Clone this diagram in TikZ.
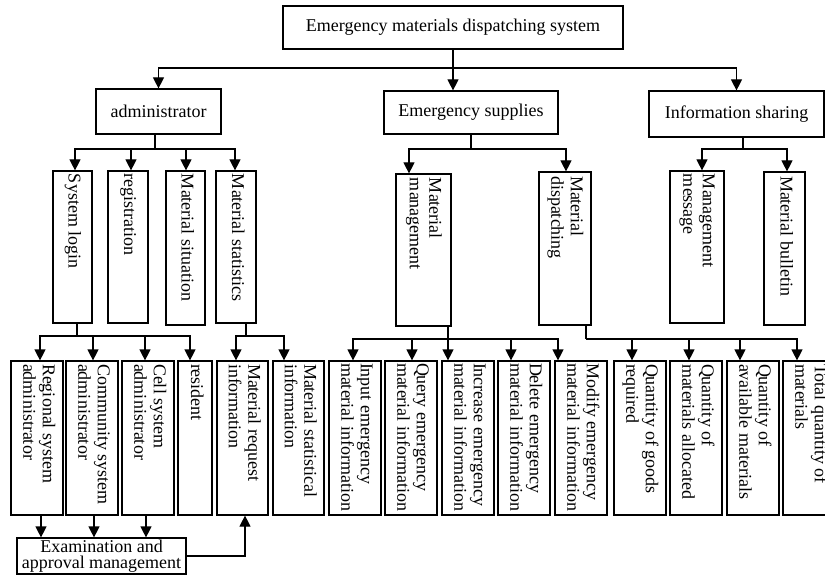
\documentclass[tikz,border=0pt]{standalone}
\usepackage{fontspec}
\setmainfont{Liberation Serif}
\usepackage{graphicx}
\usetikzlibrary{arrows.meta}
\newcommand\vtext[2]{\rotatebox{-90}{\makebox[#1][l]{\begin{tabular}{@{}l@{}}#2\end{tabular}}}}
\begin{document}
\begin{tikzpicture}[x=1pt,y=-1pt,
  every node/.style={font=\fontsize{18}{19.5}\selectfont, inner sep=0pt},
  box/.style={draw, line width=1.2pt},
  top/.style={box, minimum width=39, minimum height=152},
  leaf/.style={box, minimum width=52, minimum height=154},
  arr/.style={line width=1.2pt, -{Triangle[width=11pt,length=11pt]}},
  ln/.style={line width=1.2pt}]
\useasboundingbox (0,0) rectangle (825,575);

% level 0 and 1
\node[box, minimum width=340, minimum height=43] (title) at (453,27.5) {Emergency materials dispatching system};
\node[box, minimum width=125, minimum height=45] (admin) at (158.5,111.5) {administrator};
\node[box, minimum width=174, minimum height=43] (supp) at (471,112.5) {Emergency supplies};
\node[box, minimum width=175, minimum height=46] (info) at (736.5,114) {Information sharing};

% level 2
\node[top] (login) at (72.5,247) {\vtext{146pt}{System login}};
\node[top, minimum width=40] (reg) at (128,247) {\vtext{146pt}{registration}};
\node[top, minimum height=154] (situ) at (185.5,248) {\vtext{148pt}{Material situation}};
\node[top, minimum width=40] (stats) at (236,247) {\vtext{146pt}{Material statistics}};
\node[top, minimum width=55] (mm) at (423.5,250) {\vtext{144pt}{Material\\management}};
\node[top, minimum width=52, minimum height=153] (md) at (565,248.5) {\vtext{145pt}{Material\\dispatching}};
\node[top, minimum width=54] (mmsg) at (697,247) {\vtext{146pt}{Management\\message}};
\node[top, minimum width=41, minimum height=153] (bull) at (784.5,248.5) {\vtext{145pt}{Material bulletin}};

% level 3
\node[leaf] (reg3) at (37,438) {\vtext{148pt}{Regional system\\administrator}};
\node[leaf] (comm) at (92,438) {\vtext{148pt}{Community system\\administrator}};
\node[leaf] (cell) at (148,438) {\vtext{148pt}{Cell system\\administrator}};
\node[leaf, minimum width=34] (res) at (195,438) {\vtext{148pt}{resident}};
\node[leaf, minimum width=51] (mreq) at (242.5,438) {\vtext{148pt}{Material request\\information}};
\node[leaf, minimum width=51] (mstat) at (298.5,438) {\vtext{148pt}{Material statistical\\information}};
\node[leaf] (inp) at (355,438) {\vtext{150pt}{Input emergency\\material information}};
\node[leaf] (qry) at (411,438) {\vtext{150pt}{Query emergency\\material information}};
\node[leaf] (inc) at (468,438) {\vtext{150pt}{Increase emergency\\material information}};
\node[leaf] (del) at (524,438) {\vtext{150pt}{Delete emergency\\material information}};
\node[leaf] (mod) at (581,438) {\vtext{150pt}{Modify emergency\\material information}};
\node[leaf] (qg) at (640,438) {\vtext{148pt}{Quantity of goods\\required}};
\node[leaf] (qa) at (696,438) {\vtext{148pt}{Quantity of\\materials allocated}};
\node[leaf] (qv) at (753,438) {\vtext{148pt}{Quantity of\\available materials}};
\node[leaf] (tot) at (809,438) {\vtext{148pt}{Total quantity of\\materials}};

% level 4
\node[box, minimum width=169, minimum height=36, align=center,
      font=\fontsize{18}{16.5}\selectfont] (exam) at (101.5,556) {Examination and\\approval management};

% buses
\coordinate (b1) at (0,68);
\coordinate (b2) at (0,149);
\coordinate (b3) at (0,336);
\coordinate (b4) at (0,339);

% title to level 1
\draw[arr] (title.south) -- (title.south |- supp.north);
\draw[arr] (title.south |- b1) -| (admin.north);
\draw[arr] (title.south |- b1) -| (info.north);

% level 1 to level 2
\draw[ln] ([xshift=-3.5]admin.south) -- ([xshift=-3.5]admin.south |- b2);
\foreach \n/\s in {login/2.5, reg/3, situ/0.5, stats/-1}
  \draw[arr] ([xshift=-3.5]admin.south |- b2) -| ([xshift=\s]\n.north);
\draw[ln] (supp.south) -- (supp.south |- b2);
\draw[arr] (supp.south |- b2) -| ([xshift=-14.5]mm.north);
\draw[arr] (supp.south |- b2) -| ([xshift=1]md.north);
\draw[ln] ([xshift=6.5]info.south) -- ([xshift=6.5]info.south |- b2);
\draw[arr] ([xshift=6.5]info.south |- b2) -| ([xshift=5]mmsg.north);
\draw[arr] ([xshift=6.5]info.south |- b2) -| ([xshift=2.5]bull.north);

% level 2 to level 3
\draw[ln] ([xshift=4.5]login.south) -- ([xshift=4.5]login.south |- b3);
\foreach \n/\s in {reg3/3, comm/1, cell/-3, res/-5}
  \draw[arr] ([xshift=4.5]login.south |- b3) -| ([xshift=\s]\n.north);
\draw[ln] ([xshift=10]stats.south) -- ([xshift=10]stats.south |- b3);
\draw[arr] ([xshift=10]stats.south |- b3) -| ([xshift=-6.5]mreq.north);
\draw[arr] ([xshift=10]stats.south |- b3) -| ([xshift=-14.5]mstat.north);
\draw[ln] ([xshift=24.5]mm.south) -- ([xshift=24.5]mm.south |- b4);
\foreach \n/\s in {inp/-2, qry/1, inc/-20, del/-13, mod/-23}
  \draw[arr] ([xshift=24.5]mm.south |- b4) -| ([xshift=\s]\n.north);
\draw[ln] ([xshift=21]md.south) -- ([xshift=21]md.south |- b4);
\foreach \n/\s in {qg/-8, qa/-7, qv/-13, tot/-12}
  \draw[arr] ([xshift=21]md.south |- b4) -| ([xshift=\s]\n.north);

% level 3 to examination
\foreach \n/\s in {reg3/4, comm/2, cell/-2}
  \draw[arr] ([xshift=\s]\n.south) -- ([xshift=\s]\n.south |- exam.north);
\draw[arr] (exam.east) -| ([xshift=2.5]mreq.south);
\end{tikzpicture}
\end{document}
